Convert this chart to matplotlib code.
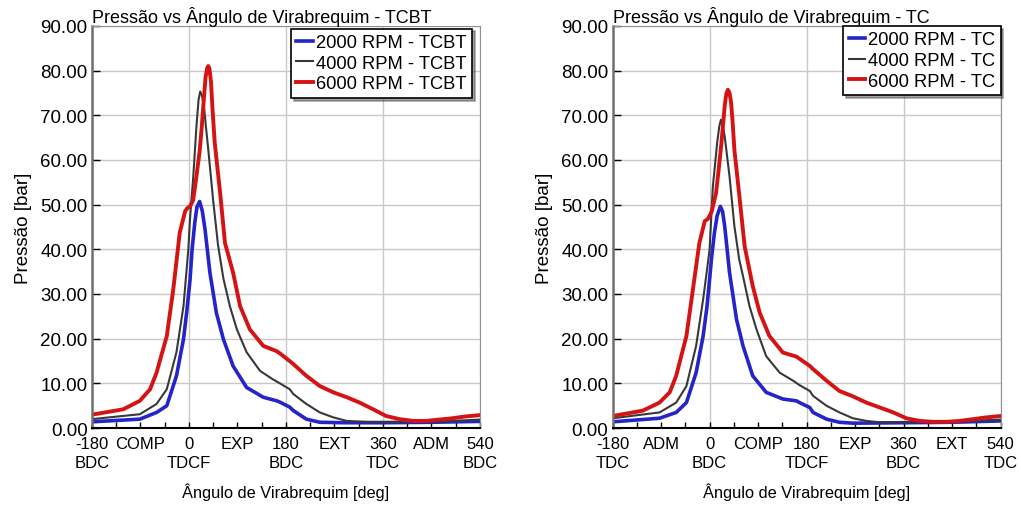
import numpy as np
import matplotlib
matplotlib.use("Agg")
import matplotlib.pyplot as plt
from matplotlib.ticker import MultipleLocator

plt.rcParams['font.family'] = ['Liberation Sans', 'DejaVu Sans']

# crank angle [deg] / pressure [bar]
# --- TCBT ---
a_2000_tcbt = [-180, -91, -60, -41, -23, -10, -4, 2, 6, 11, 15, 20, 25, 30, 39, 51, 64, 82, 107, 138, 163, 169, 187,
               194, 218, 243, 290, 360, 450, 540]
p_2000_tcbt = [1.4, 2.0, 3.5, 5.0, 11.7, 19.9, 26.0, 33.0, 40.0, 46.0, 49.5, 50.7, 48.5, 44.4, 34.8, 25.8, 19.9, 13.9, 9.1, 6.9, 6.1, 5.8, 4.7,
               3.9, 2.0, 1.3, 1.2, 1.2, 1.3, 1.5]
a_4000_tcbt = [-180, -91, -60, -41, -23, -10, -1, 2, 8, 14, 18, 21, 24, 28, 32, 36, 45, 54, 64, 76, 89, 107, 132, 156,
               169, 187, 194, 218, 243, 268, 293, 330, 400, 470, 540]
p_4000_tcbt = [2.0, 3.1, 5.4, 8.7, 17.0, 27.3, 40.0, 46.7, 56.0, 67.5, 73.5, 75.3, 74.5, 72.0, 67.0, 62.3, 51.0, 41.0, 33.5, 27.3, 22.1, 17.0, 12.8, 10.9,
               10.0, 8.7, 7.6, 5.4, 3.5, 2.4, 1.6, 1.4, 1.4, 1.5, 1.9]
a_6000_tcbt = [-180, -122, -91, -72, -60, -41, -29, -17, -7, -3, 2, 8, 14, 20, 24, 28, 31, 34, 36, 38, 41, 44, 48, 58, 67, 82, 95, 113, 138, 163,
               169, 187, 194, 218, 243, 268, 293, 317, 342, 366, 391, 416, 440, 464, 489, 513, 540]
p_6000_tcbt = [3.0, 4.2, 6.1, 8.7, 12.4, 20.6, 31.0, 43.7, 48.5, 49.2, 49.6, 51.0, 56.3, 62.0, 67.5, 74.0, 78.5, 80.6, 81.0, 80.5, 77.5, 71.0, 63.8, 52.6, 41.4, 34.8, 27.3, 22.1, 18.4, 17.2,
               16.7, 15.0, 14.3, 11.7, 9.4, 8.0, 6.9, 5.7, 4.2, 2.7, 2.0, 1.6, 1.6, 1.9, 2.2, 2.6, 2.9]

# --- TC ---
a_2000_tc = [-180, -93, -62, -43, -25, -12, -5, 0, 4, 9, 14, 20, 24, 28, 37, 50, 62, 80, 105, 136, 161, 167, 186,
             192, 217, 241, 266, 360, 450, 540]
p_2000_tc = [1.4, 2.2, 3.5, 5.7, 12.4, 20.6, 27.0, 33.3, 38.5, 43.7, 47.5, 49.6, 48.5, 45.2, 34.8, 24.3, 18.4, 11.7, 8.0, 6.5, 6.1, 5.7, 4.6,
             3.5, 2.0, 1.3, 1.1, 1.2, 1.3, 1.6]
a_4000_tc = [-180, -93, -62, -43, -25, -12, -2, 0, 6, 14, 18, 21, 24, 28, 37, 46, 55, 62, 74, 87, 105, 130, 155,
             167, 186, 192, 217, 241, 266, 291, 316, 400, 470, 540]
p_4000_tc = [2.2, 3.5, 5.7, 9.4, 18.4, 28.8, 38.0, 40.0, 54.0, 63.8, 67.5, 69.0, 68.0, 65.3, 56.3, 45.2, 37.7, 34.0, 27.3, 22.1, 16.1, 12.4, 10.6,
             9.6, 8.3, 7.2, 5.0, 3.5, 2.2, 1.6, 1.3, 1.4, 1.5, 1.9]
a_6000_tc = [-180, -124, -93, -74, -62, -43, -31, -19, -9, -3, 4, 12, 17, 22, 28, 31, 34, 37, 40, 43, 46, 56, 65, 80, 93, 111, 136, 161,
             167, 186, 192, 217, 241, 266, 291, 316, 341, 365, 390, 415, 440, 464, 489, 514, 540]
p_6000_tc = [2.7, 3.9, 5.7, 8.0, 11.7, 20.6, 31.0, 41.4, 46.3, 46.8, 48.5, 52.6, 58.0, 63.8, 72.0, 74.8, 75.7, 75.0, 72.7, 68.0, 62.3, 51.1, 40.7, 31.8, 25.8, 20.6, 16.9, 16.0,
             15.5, 13.9, 13.2, 10.6, 8.3, 7.1, 5.7, 4.6, 3.5, 2.2, 1.6, 1.4, 1.4, 1.6, 2.0, 2.4, 2.7]

xticks = [-180, -90, 0, 90, 180, 270, 360, 450, 540]
labels_tcbt = ["-180\nBDC", "COMP", "0\nTDCF", "EXP", "180\nBDC", "EXT", "360\nTDC", "ADM", "540\nBDC"]
labels_tc = ["-180\nTDC", "ADM", "0\nBDC", "COMP", "180\nTDCF", "EXP", "360\nBDC", "EXT", "540\nTDC"]

fig = plt.figure(figsize=(10.21, 5.06), dpi=100)


def panel(rect, curves, suffix, xlabels, leg_anchor):
    ax = fig.add_axes(rect)
    colors = ['#2424c8', '#383838', '#d41414']
    widths = [2.6, 1.5, 2.8]
    for (a, p, rpm), c, w in zip(curves, colors, widths):
        ax.plot(a, p, color=c, lw=w, label=f"{rpm} RPM - {suffix}")
    ax.set_xlim(-180, 540)
    ax.set_ylim(0, 90)
    ax.set_xticks(xticks)
    ax.set_xticklabels(xlabels, fontsize=12, linespacing=1.3)
    ax.xaxis.set_minor_locator(MultipleLocator(45))
    ax.set_yticks(np.arange(0, 91, 10))
    ax.set_yticklabels([f"{v:.2f}" for v in range(0, 91, 10)], fontsize=13.5)
    ax.tick_params(axis='x', which='both', direction='in', length=4, width=1, pad=6)
    ax.tick_params(axis='y', direction='in', length=6, width=1, pad=3)
    ax.grid(True, color='#c8c8c8', lw=1)
    for t, gl in zip(xticks, ax.get_xgridlines()):
        gl.set_visible(t % 180 == 0)
    ax.spines['left'].set_color('#707070')
    ax.spines['left'].set_linewidth(1.8)
    ax.spines['bottom'].set_color('black')
    ax.spines['bottom'].set_linewidth(1.5)
    ax.spines['top'].set_color('#909090')
    ax.spines['right'].set_color('#909090')
    ax.set_title(f"Pressão vs Ângulo de Virabrequim - {suffix}", loc='left', fontsize=13, pad=2)
    ax.set_xlabel("Ângulo de Virabrequim [deg]", fontsize=11.8, labelpad=9)
    ax.set_ylabel("Pressão [bar]", fontsize=13.5, labelpad=6)
    leg = ax.legend(loc='upper right', bbox_to_anchor=leg_anchor, fontsize=13.2, frameon=True,
                    fancybox=False, shadow=True, handlelength=0.9, handletextpad=0.15,
                    borderpad=0.3, labelspacing=0.2, borderaxespad=0.0)
    leg.get_frame().set_edgecolor('black')
    leg.get_frame().set_linewidth(1.2)
    return ax


panel([0.090, 0.152, 0.380, 0.795],
      [(a_2000_tcbt, p_2000_tcbt, 2000), (a_4000_tcbt, p_4000_tcbt, 4000), (a_6000_tcbt, p_6000_tcbt, 6000)],
      "TCBT", labels_tcbt, (0.979, 0.993))
panel([0.600, 0.152, 0.380, 0.795],
      [(a_2000_tc, p_2000_tc, 2000), (a_4000_tc, p_4000_tc, 4000), (a_6000_tc, p_6000_tc, 6000)],
      "TC", labels_tc, (1.0, 1.0))

fig.savefig("out.png", dpi=100)
